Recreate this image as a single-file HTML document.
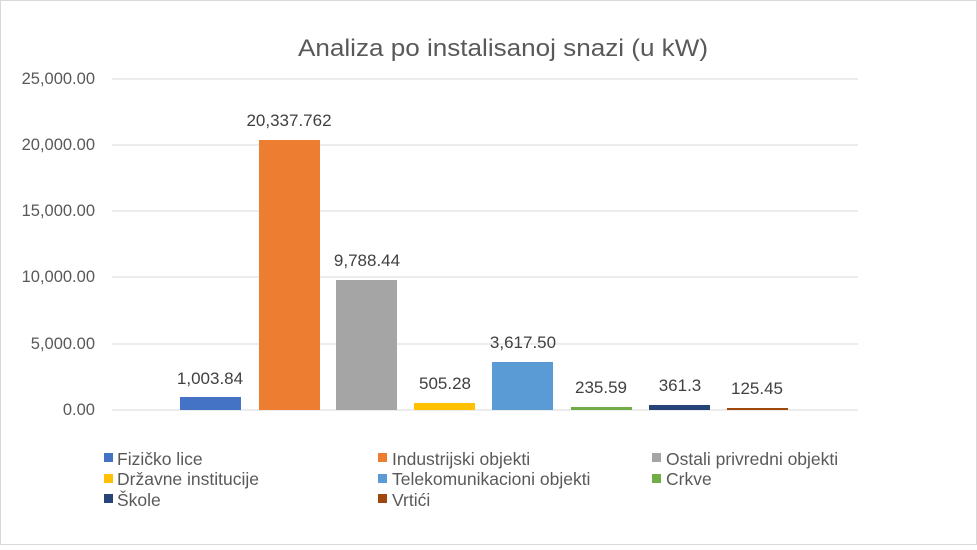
<!DOCTYPE html>
<html><head><meta charset="utf-8"><style>
body{margin:0;background:#fff}
svg text{font-family:"Liberation Sans",sans-serif}
</style></head><body>
<svg width="977" height="545" xmlns="http://www.w3.org/2000/svg">
<rect x="0.5" y="0.5" width="976" height="544" fill="#fff" stroke="#d9d9d9"/>
<text x="503" y="56" text-anchor="middle" font-size="24" fill="#595959" textLength="410" lengthAdjust="spacingAndGlyphs">Analiza po instalisanoj snazi (u kW)</text>
<g stroke="#d9d9d9" stroke-width="1">
<line x1="112" y1="79" x2="858" y2="79"/>
<line x1="112" y1="145" x2="858" y2="145"/>
<line x1="112" y1="211" x2="858" y2="211"/>
<line x1="112" y1="277" x2="858" y2="277"/>
<line x1="112" y1="344" x2="858" y2="344"/>
<line x1="112" y1="410" x2="858" y2="410"/>
</g>
<g font-size="16.5" fill="#595959" text-anchor="end">
<text x="95" y="84">25,000.00</text>
<text x="95" y="150">20,000.00</text>
<text x="95" y="216">15,000.00</text>
<text x="95" y="282">10,000.00</text>
<text x="95" y="349">5,000.00</text>
<text x="95" y="415">0.00</text>
</g>
<rect x="180" y="397" width="61" height="13" fill="#4472C4"/>
<rect x="259" y="140" width="61" height="270" fill="#ED7D31"/>
<rect x="336" y="280" width="61" height="130" fill="#A5A5A5"/>
<rect x="414" y="403" width="61" height="7" fill="#FFC000"/>
<rect x="492" y="362" width="61" height="48" fill="#5B9BD5"/>
<rect x="571" y="407" width="61" height="3" fill="#70AD47"/>
<rect x="649" y="405" width="61" height="5" fill="#264478"/>
<rect x="727" y="408" width="61" height="2" fill="#9E480E"/>
<g font-size="17" fill="#404040" text-anchor="middle">
<text x="210" y="384">1,003.84</text>
<text x="289" y="126">20,337.762</text>
<text x="367" y="266">9,788.44</text>
<text x="445" y="389">505.28</text>
<text x="523" y="348">3,617.50</text>
<text x="601" y="393">235.59</text>
<text x="680" y="391">361.3</text>
<text x="757" y="394">125.45</text>
</g>
<g font-size="17.5" fill="#595959">
<rect x="104" y="453" width="9" height="9" fill="#4472C4"/><text x="117" y="465">Fizičko lice</text>
<rect x="378" y="453" width="9" height="9" fill="#ED7D31"/><text x="392" y="465">Industrijski objekti</text>
<rect x="652" y="453" width="9" height="9" fill="#A5A5A5"/><text x="666" y="465">Ostali privredni objekti</text>
<rect x="104" y="474" width="9" height="9" fill="#FFC000"/><text x="117" y="485">Državne institucije</text>
<rect x="378" y="474" width="9" height="9" fill="#5B9BD5"/><text x="392" y="485">Telekomunikacioni objekti</text>
<rect x="652" y="474" width="9" height="9" fill="#70AD47"/><text x="666" y="485">Crkve</text>
<rect x="104" y="494" width="9" height="9" fill="#264478"/><text x="117" y="506">Škole</text>
<rect x="378" y="494" width="9" height="9" fill="#9E480E"/><text x="392" y="506">Vrtići</text>
</g>
</svg>
</body></html>
